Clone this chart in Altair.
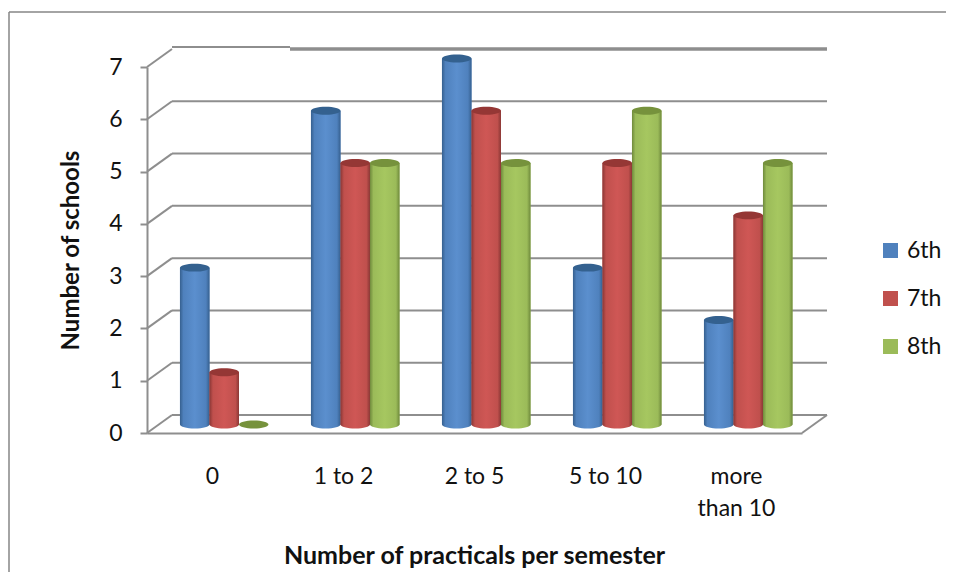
import altair as alt
import pandas as pd

categories = ["0", "1 to 2", "2 to 5", "5 to 10", "more than 10"]
series = ["6th", "7th", "8th"]
values_6th = [3, 6, 7, 3, 2]
values_7th = [1, 5, 6, 5, 4]
values_8th = [0, 5, 5, 6, 5]
y_ticks = [0, 1, 2, 3, 4, 5, 6, 7]
flat = ["#4f81bd", "#c0504d", "#9bbb59"]
edge = ["#36608f", "#8a3735", "#6f8a3c"]
light = ["#5b8fce", "#cf5755", "#a6c760"]
top = ["#34618f", "#953735", "#76923c"]

rows = []
for s, vals in zip(series, [values_6th, values_7th, values_8th]):
    for c, v in zip(categories, vals):
        rows.append({"cat": c, "series": s, "v": v, "base": 0})
df = pd.DataFrame(rows)
grid = pd.DataFrame({"v": y_ticks})
zero = pd.DataFrame({"v": [0]})

FONT = "Lato"
GRID = "#8e8e8e"
ELL = "M-1,0 A1,0.27 0 1 1 1,0 A1,0.27 0 1 1 -1,0 Z"
LIFT = -8.5
LABEL = 23

x_enc = alt.X(
    "cat:N", sort=categories, title="Number of practicals per semester",
    scale=alt.Scale(paddingInner=0, paddingOuter=0),
    axis=alt.Axis(
        labelAngle=0, ticks=False, domain=True, domainColor=GRID, domainWidth=2,
        labelPadding=43, labelFontSize=LABEL, labelFont=FONT, labelColor="#111111",
        labelLineHeight=32, labelBaseline="middle",
        labelExpr="datum.value == 'more than 10' ? ['more', 'than 10'] : datum.value",
        titleFont=FONT, titleFontSize=25, titleFontWeight="bold", titleColor="#111111",
        titleX=327, titleY=122, titleBaseline="middle",
    ),
)
x_off = alt.XOffset("series:N", sort=series, scale=alt.Scale(paddingInner=0, paddingOuter=0.72, align=0.776))
y_axis = alt.Axis(
    values=y_ticks, format="d", tickSize=7, tickColor=GRID, tickWidth=2, domainColor=GRID, domainWidth=2,
    grid=False, labelPadding=18, labelFontSize=LABEL, labelFont=FONT, labelColor="#111111",
    titleFont=FONT, titleFontSize=24, titleFontWeight="bold", titleColor="#111111",
    titleX=-76, titleY=183, titleBaseline="middle", titleAlign="center", titleAngle=270,
)
y_plain = alt.Y("v:Q", scale=alt.Scale(domain=[0, 7]), title="Number of schools", axis=y_axis)


def g(i):
    return alt.Gradient(
        gradient="linear", x1=0, x2=1, y1=0, y2=0,
        stops=[
            alt.GradientStop(offset=0, color=edge[i]),
            alt.GradientStop(offset=0.12, color=flat[i]),
            alt.GradientStop(offset=0.5, color=light[i]),
            alt.GradientStop(offset=0.88, color=flat[i]),
            alt.GradientStop(offset=1, color=edge[i]),
        ],
    )


layers = []

# chart frame
layers.append(alt.Chart(zero).mark_rule(color="#868686", strokeWidth=1.5).encode(
    x=alt.value(-138), y=alt.value(-55), y2=alt.value(510)))
layers.append(alt.Chart(zero).mark_rule(color="#868686", strokeWidth=1.5).encode(
    x=alt.value(-138), x2=alt.value(810), y=alt.value(-55)))

# back wall lines, with the real y axis
layers.append(alt.Chart(grid).transform_filter("datum.v < 7").mark_rule(color=GRID, strokeWidth=2, yOffset=-18).encode(
    x=alt.value(25), x2=alt.value(680), y=y_plain))
top_line = grid[grid.v == 7]
layers.append(alt.Chart(top_line).mark_rule(color=GRID, strokeWidth=2, yOffset=-20).encode(
    x=alt.value(25), x2=alt.value(143), y=y_plain))
layers.append(alt.Chart(top_line).mark_rule(color=GRID, strokeWidth=3.5, yOffset=-18).encode(
    x=alt.value(143), x2=alt.value(680), y=y_plain))
# side wall and floor edges
layers.append(alt.Chart(grid).mark_rule(color=GRID, strokeWidth=2, y2Offset=-18).encode(
    x=alt.value(0), x2=alt.value(25), y=y_plain, y2="v:Q"))
layers.append(alt.Chart(zero).mark_rule(color=GRID, strokeWidth=2, y2Offset=-18).encode(
    x=alt.value(655), x2=alt.value(680), y=y_plain, y2="v:Q"))

# flat bars carry the legend
layers.append(alt.Chart(df).mark_bar(yOffset=LIFT, y2Offset=LIFT).encode(
    x=x_enc, xOffset=x_off, y=y_plain, y2="base:Q",
    color=alt.Color("series:N", sort=series, scale=alt.Scale(domain=series, range=flat), legend=alt.Legend(
        title=None, orient="none", legendX=732, legendY=172, symbolType="square", symbolSize=225,
        symbolStrokeWidth=0, labelFont=FONT, labelFontSize=LABEL, labelColor="#111111",
        labelOffset=5, rowPadding=24, padding=0,
    )),
))

for i, s in enumerate(series):
    d = df[df.series == s]
    layers.append(alt.Chart(d[d.v > 0]).mark_point(
        filled=True, shape=ELL, size=870, fill=g(i), opacity=1, strokeWidth=0, yOffset=LIFT
    ).encode(x=x_enc, xOffset=x_off, y=alt.Y("base:Q", scale=alt.Scale(domain=[0, 7]), title="Number of schools", axis=y_axis)))
    layers.append(alt.Chart(d[d.v > 0]).mark_bar(fill=g(i), yOffset=LIFT, y2Offset=LIFT).encode(
        x=x_enc, xOffset=x_off, y=y_plain, y2="base:Q"))
    layers.append(alt.Chart(d).mark_point(
        filled=True, shape=ELL, size=870, fill=top[i], opacity=1, strokeWidth=0, yOffset=LIFT
    ).encode(x=x_enc, xOffset=x_off, y=y_plain))

chart = alt.layer(*layers).properties(
    width=655, height=366, background="white",
    padding={"left": 139, "top": 59, "right": 144, "bottom": 139},
    autosize=alt.AutoSizeParams(type="none"),
).configure_view(stroke=None)

chart.save("out.html", embed_options={"renderer": "svg", "actions": False})
